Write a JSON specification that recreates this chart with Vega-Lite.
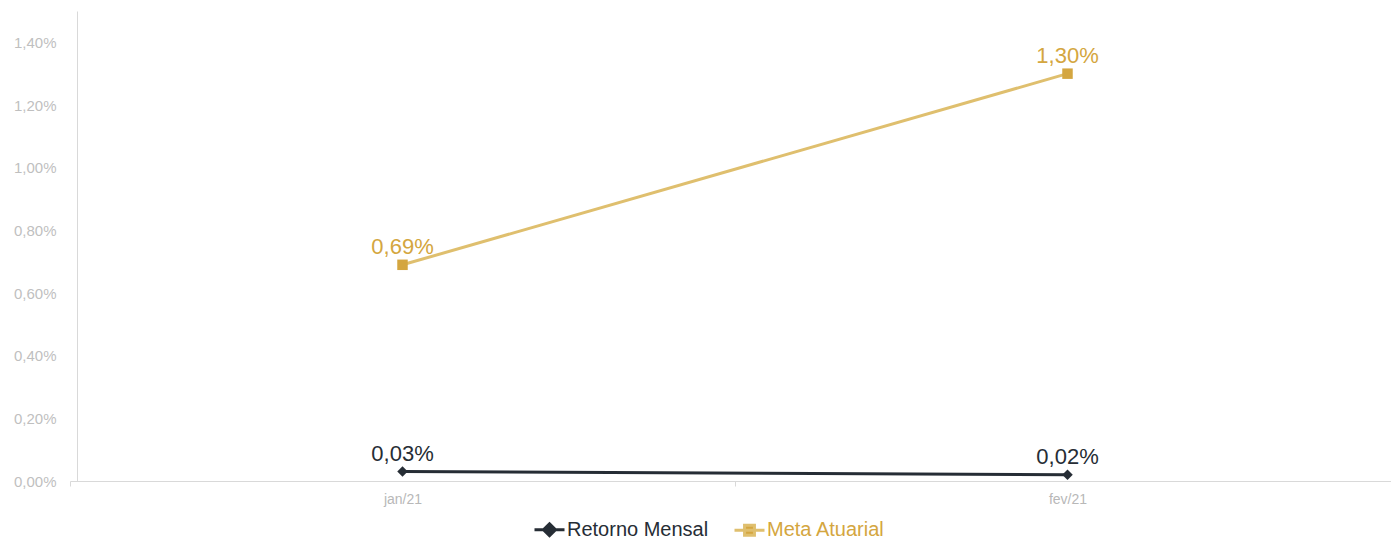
{
  "$schema": "https://vega.github.io/schema/vega-lite/v6.json",
  "width": 1330,
  "height": 470,
  "autosize": {"type": "none"},
  "padding": {"left": 70, "top": 11, "right": 0, "bottom": 58},
  "background": "white",
  "config": {
    "locale": {"number": {"decimal": ",", "thousands": ".", "grouping": [3], "currency": ["R$", ""]}},
    "font": "Liberation Sans",
    "view": {"stroke": null}
  },
  "data": {
    "values": [
      {"mes": "jan/21", "serie": "Retorno Mensal", "valor": 0.0003},
      {"mes": "fev/21", "serie": "Retorno Mensal", "valor": 0.0002},
      {"mes": "jan/21", "serie": "Meta Atuarial", "valor": 0.0069},
      {"mes": "fev/21", "serie": "Meta Atuarial", "valor": 0.0130}
    ]
  },
  "encoding": {
    "x": {
      "field": "mes", "type": "nominal", "sort": ["jan/21", "fev/21"],
      "scale": {"paddingInner": 0, "paddingOuter": 0},
      "axis": {
        "title": null, "labelAngle": 0, "labelFontSize": 14, "labelColor": "#b8b8b8",
        "domainColor": "#d9d9d9", "tickColor": "#d9d9d9", "tickSize": 5, "tickBand": "extent",
        "labelPadding": 6
      }
    },
    "y": {
      "field": "valor", "type": "quantitative",
      "scale": {"domain": [0, 0.015], "nice": false},
      "axis": {
        "title": null, "format": ".2%", "values": [0, 0.002, 0.004, 0.006, 0.008, 0.01, 0.012, 0.014],
        "grid": false, "ticks": false, "offset": -7, "labelPadding": 21,
        "labelFontSize": 15, "labelColor": "#bfbfbf", "domainColor": "#d9d9d9"
      }
    }
  },
  "layer": [
    {
      "mark": {"type": "line", "strokeWidth": 3},
      "encoding": {
        "color": {
          "field": "serie", "type": "nominal",
          "scale": {"domain": ["Retorno Mensal", "Meta Atuarial"], "range": ["#262d35", "#dfbf6e"]},
          "legend": {
            "title": null, "orient": "none", "direction": "horizontal",
            "legendX": 463, "legendY": 502,
            "labelFontSize": 20, "labelOffset": 1, "columnPadding": 19,
            "symbolSize": 900, "symbolStrokeWidth": 3,
            "encode": {
              "symbols": {"update": {
                "shape": {"signal": "datum.value === 'Retorno Mensal' ? 'M-1,0H1M0,-0.4L0.4,0L0,0.4L-0.4,0Z' : 'M-1,0H1M-0.33,-0.33H0.33V0.33H-0.33Z'"},
                "fill": {"signal": "scale('fill', datum.value)"},
                "stroke": {"signal": "scale('color', datum.value)"},
                "strokeWidth": {"value": 3}
              }},
              "labels": {"update": {"fill": {"signal": "scale('fill', datum.value)"}}}
            }
          }
        }
      }
    },
    {
      "transform": [{"filter": "datum.serie === 'Retorno Mensal'"}],
      "mark": {"type": "point", "filled": true, "size": 110, "opacity": 1, "shape": "diamond"},
      "encoding": {
        "fill": {"field": "serie", "type": "nominal", "scale": {"domain": ["Retorno Mensal", "Meta Atuarial"], "range": ["#262d35", "#d4a640"]}, "legend": null}
      }
    },
    {
      "transform": [{"filter": "datum.serie === 'Meta Atuarial'"}],
      "mark": {"type": "point", "filled": true, "size": 110, "opacity": 1, "shape": "square"},
      "encoding": {
        "fill": {"field": "serie", "type": "nominal", "legend": null}
      }
    },
    {
      "mark": {"type": "text", "fontSize": 22, "dy": -18, "baseline": "middle"},
      "encoding": {
        "text": {"field": "valor", "type": "quantitative", "format": ".2%"},
        "fill": {"field": "serie", "type": "nominal", "legend": null}
      }
    }
  ]
}
